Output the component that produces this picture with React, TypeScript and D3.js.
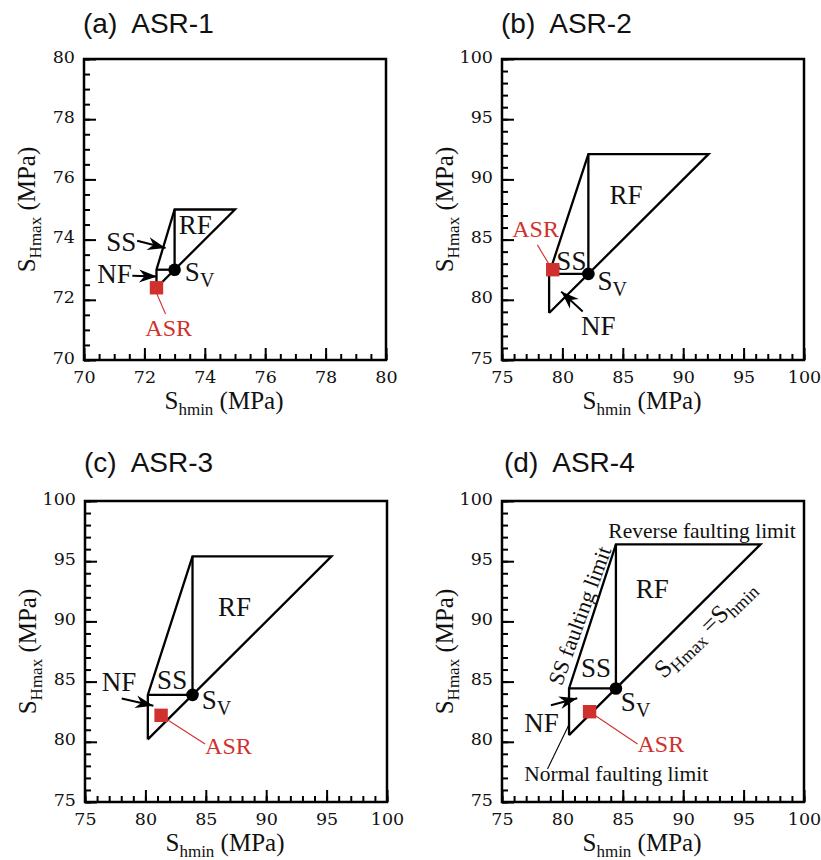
import React, { useEffect, useRef } from "react";
import * as d3 from "d3";

// panel setup
const titles = ["(a)  ASR-1", "(b)  ASR-2", "(c)  ASR-3", "(d)  ASR-4"];
const axisMin = [70, 75, 75, 75];
const axisMax = [80, 100, 100, 100];
const majorStep = [2, 5, 5, 5];
const minorStep = [0.5, 1, 1, 1];

// stress polygon (MPa)
const sv = [73.0, 82.15, 83.9, 84.43];
const nfLimit = [72.4, 78.9, 80.2, 80.55];
const rfLimit = [75.0, 92.1, 95.4, 96.4];

// ASR estimate (Shmin, SHmax)
const asrShmin = [72.4, 79.2, 81.3, 82.25];
const asrShmax = [72.4, 82.5, 82.2, 82.5];

// annotation anchors, data units
const regionLabels = [
  [{ t: "RF", x: 73.14, y: 74.19 }, { t: "SS", x: 70.74, y: 73.63 }, { t: "NF", x: 70.44, y: 72.55 }],
  [{ t: "RF", x: 83.9, y: 87.97 }, { t: "SS", x: 79.5, y: 82.49 }, { t: "NF", x: 81.55, y: 77.08 }],
  [{ t: "RF", x: 86.02, y: 90.43 }, { t: "SS", x: 80.97, y: 84.37 }, { t: "NF", x: 76.38, y: 84.23 }],
  [{ t: "RF", x: 86.08, y: 91.98 }, { t: "SS", x: 81.53, y: 85.37 }, { t: "NF", x: 76.84, y: 80.81 }],
];
const svLabelPos = [[73.34, 72.63], [82.9, 80.82], [84.67, 82.71], [84.84, 82.57]];
const asrLabelPos = [[72.03, 70.81], [75.85, 85.25], [84.94, 79.0], [86.22, 79.13]];
const asrLeader = [
  [[72.39, 72.25], [72.7, 71.53]],
  [[77.93, 84.56], [78.92, 82.9]],
  [[81.3, 82.16], [84.94, 79.82]],
  [[82.25, 82.49], [86.22, 79.82]],
];
const arrows = [
  [[[71.76, 73.96], [72.7, 73.72]], [[71.6, 72.8], [72.42, 72.77]]],
  [[[81.68, 79.02], [79.9, 80.68]]],
  [[[78.04, 83.6], [80.66, 82.99]]],
  [[[79.05, 83.04], [81.23, 83.62]]],
];

const W = 302;
const H = 301;
const panelLeft = [84, 502, 85, 502];
const panelTop = [59, 59, 501, 501];
const titleY = [33, 33, 472, 472];

const SERIF = "'Liberation Serif', 'Times New Roman', serif";
const TICKFONT = "'DejaVu Serif', serif";
const SANS = "'Liberation Sans', Arial, sans-serif";
const RED = "#d0312d";

type Seg = [string, boolean];

function rich(sel: any, segs: Seg[], size: number, subSize: number, shift: number) {
  const text = sel.append("text").attr("font-family", SERIF).attr("fill", "#111");
  let wasSub = false;
  segs.forEach(([s, isSub]) => {
    const ts = text.append("tspan").text(s).attr("font-size", isSub ? subSize : size);
    if (isSub !== wasSub) ts.attr("dy", isSub ? shift : -shift);
    wasSub = isSub;
  });
  return text;
}

export default function App() {
  const svgRef = useRef<SVGSVGElement>(null);

  useEffect(() => {
    const svg = d3.select(svgRef.current);
    svg.selectAll("*").remove();

    svg
      .append("defs")
      .append("marker")
      .attr("id", "head")
      .attr("markerUnits", "userSpaceOnUse")
      .attr("viewBox", "-20 -8 21 16")
      .attr("refX", 0)
      .attr("refY", 0)
      .attr("markerWidth", 21)
      .attr("markerHeight", 16)
      .attr("orient", "auto")
      .append("path")
      .attr("d", "M0,0 L-18,-6.5 L-12.5,0 L-18,6.5 Z")
      .attr("fill", "#000");

    titles.forEach((title, i) => {
      const g = svg.append("g").attr("transform", `translate(${panelLeft[i]},${panelTop[i]})`);
      const x = d3.scaleLinear().domain([axisMin[i], axisMax[i]]).range([0, W]);
      const y = d3.scaleLinear().domain([axisMin[i], axisMax[i]]).range([H, 0]);

      // title
      svg
        .append("text")
        .attr("x", panelLeft[i] - 1 + (i === 3 ? 3 : 0))
        .attr("y", titleY[i])
        .attr("font-family", SANS)
        .attr("font-size", 28)
        .attr("fill", "#111")
        .style("white-space", "pre")
        .text(title);

      // axes
      const majors = d3.range(axisMin[i], axisMax[i] + 1e-6, majorStep[i]);
      const minors = d3.range(axisMin[i], axisMax[i] + 1e-6, minorStep[i]);

      const gxMinor = g.append("g").attr("transform", `translate(0,${H})`)
        .call(d3.axisBottom(x).tickValues(minors).tickSize(-6).tickFormat(() => ""));
      const gyMinor = g.append("g")
        .call(d3.axisLeft(y).tickValues(minors).tickSize(-6).tickFormat(() => ""));
      const gx = g.append("g").attr("transform", `translate(0,${H})`)
        .call(d3.axisBottom(x).tickValues(majors).tickSize(-12).tickPadding(10).tickFormat(d3.format("d")));
      const gy = g.append("g")
        .call(d3.axisLeft(y).tickValues(majors).tickSize(-12).tickPadding(9).tickFormat(d3.format("d")));

      [gxMinor, gyMinor, gx, gy].forEach((a) => {
        a.select(".domain").remove();
        a.selectAll("line").attr("stroke", "#000").attr("stroke-width", 2);
        a.selectAll("text")
          .attr("font-family", TICKFONT)
          .attr("font-size", 17.5)
          .attr("fill", "#111");
      });
      gy.selectAll("text").attr("dy", "0.18em");
      gx.selectAll("text").attr("dy", "0.74em");

      g.append("rect")
        .attr("width", W)
        .attr("height", H)
        .attr("fill", "none")
        .attr("stroke", "#000")
        .attr("stroke-width", 2.5);

      // axis titles
      rich(g, [["S", false], ["hmin", true], [" (MPa)", false]], 25, 17, 6)
        .attr("x", 140)
        .attr("y", H + 49)
        .attr("text-anchor", "middle");
      rich(g, [["S", false], ["Hmax", true], [" (MPa)", false]], 25, 17, 6)
        .attr("text-anchor", "middle")
        .attr("transform", `translate(-49,${H / 2}) rotate(-90)`);

      // stress polygon
      const p = nfLimit[i], s = sv[i], q = rfLimit[i];
      const line = d3.line<number[]>().x((d) => x(d[0])).y((d) => y(d[1]));
      const poly = [[p, p], [p, s], [s, q], [q, q], [p, p]];
      const inner = [[[p, s], [s, s]], [[s, s], [s, q]]];
      g.append("path").attr("d", line(poly)).attr("fill", "none")
        .attr("stroke", "#000").attr("stroke-width", 2.3).attr("stroke-linejoin", "miter");
      inner.forEach((seg) =>
        g.append("path").attr("d", line(seg)).attr("fill", "none")
          .attr("stroke", "#000").attr("stroke-width", 2.3));

      // arrows
      arrows[i].forEach((a) =>
        g.append("path").attr("d", line(a)).attr("fill", "none")
          .attr("stroke", "#000").attr("stroke-width", 2).attr("marker-end", "url(#head)"));

      // region labels
      regionLabels[i].forEach((l) =>
        g.append("text").attr("x", x(l.x)).attr("y", y(l.y))
          .attr("font-family", SERIF).attr("font-size", 27).attr("fill", "#111").text(l.t));

      // Sv point and label
      g.append("circle").attr("cx", x(s)).attr("cy", y(s)).attr("r", 6.3).attr("fill", "#000");
      rich(g, [["S", false], ["V", true]], 27, 20, 6)
        .attr("x", x(svLabelPos[i][0])).attr("y", y(svLabelPos[i][1]));

      // ASR
      g.append("path").attr("d", line(asrLeader[i])).attr("stroke", RED).attr("stroke-width", 1.1);
      g.append("rect")
        .attr("x", x(asrShmin[i]) - 6.7)
        .attr("y", y(asrShmax[i]) - 6.7)
        .attr("width", 13.4)
        .attr("height", 13.4)
        .attr("fill", RED);
      g.append("text").attr("x", x(asrLabelPos[i][0])).attr("y", y(asrLabelPos[i][1]))
        .attr("font-family", SERIF).attr("font-size", 24).attr("fill", RED).text("ASR");

      if (i === 3) {
        g.append("text").attr("x", x(83.8)).attr("y", y(96.94))
          .attr("font-family", SERIF).attr("font-size", 21.5).attr("fill", "#111")
          .text("Reverse faulting limit");
        g.append("text").attr("x", x(76.84)).attr("y", y(76.76))
          .attr("font-family", SERIF).attr("font-size", 21.5).attr("fill", "#111")
          .text("Normal faulting limit");
        g.append("path").attr("d", line([[78.77, 77.75], [80.57, 81.47]]))
          .attr("stroke", "#000").attr("stroke-width", 1.1);

        const ssAngle = (Math.atan2(y(q) - y(s), x(s) - x(p)) * 180) / Math.PI + 2;
        g.append("text")
          .attr("transform", `translate(${x(79.95)},${y(84.6)}) rotate(${ssAngle})`)
          .attr("font-family", SERIF).attr("font-size", 22).attr("fill", "#111")
          .text("SS faulting limit");

        rich(g, [["S", false], ["Hmax", true], [" =", false], ["S", false], ["hmin", true]], 25, 18, 5)
          .attr("transform", `translate(${x(88.4)},${y(85.2)}) rotate(-44)`);
      }
    });
  }, []);

  return (
    <svg
      ref={svgRef}
      width={821}
      height={860}
      style={{ position: "absolute", left: 0, top: 0, background: "#fff" }}
    />
  );
}
